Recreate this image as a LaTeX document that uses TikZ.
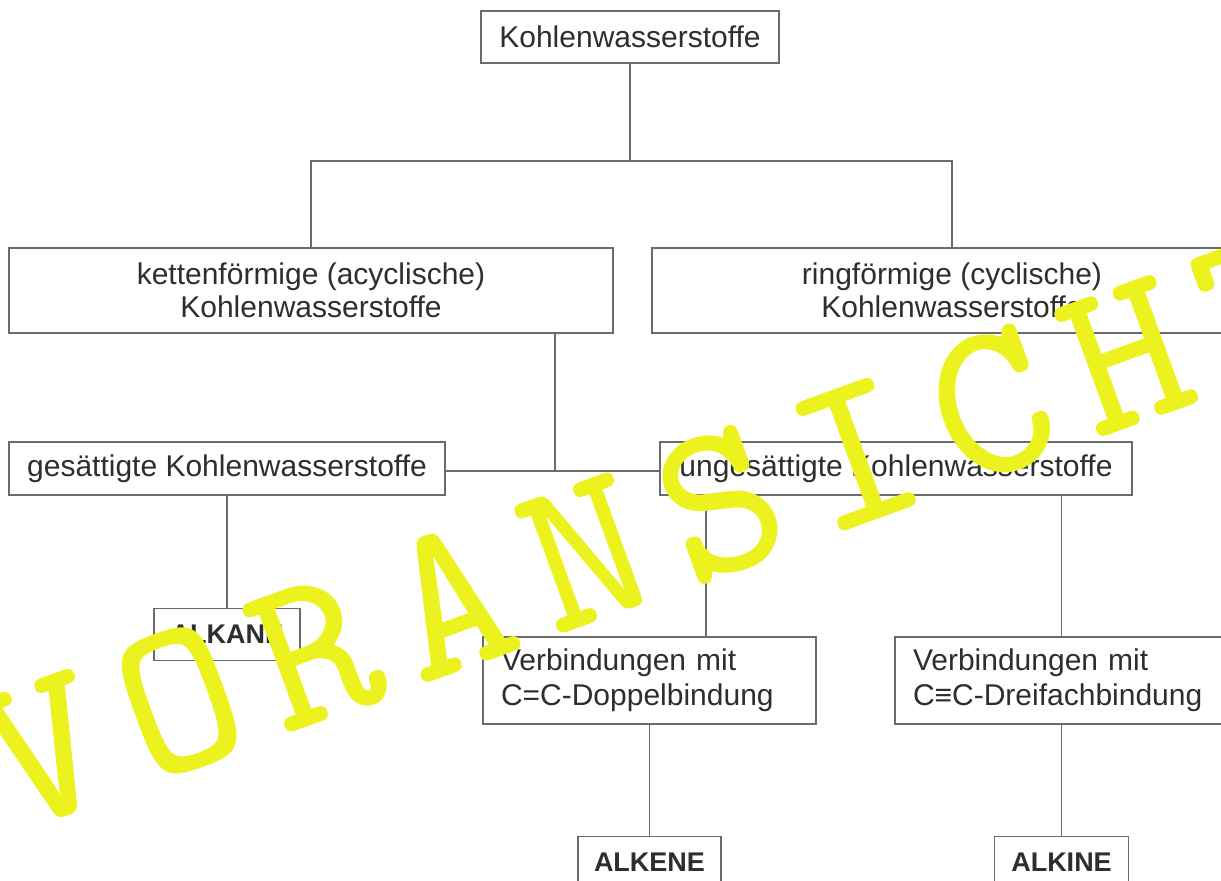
\documentclass[tikz,border=0pt]{standalone}
\usepackage{fontspec}
\setmainfont{Liberation Sans}
\newfontfamily\stampfont[FakeBold=0.6]{lmmono10-regular.otf}
\usetikzlibrary{positioning}
\definecolor{HCText}{HTML}{2E2E2E}
\definecolor{HCLine}{HTML}{6B6B6B}
\definecolor{HCMark}{HTML}{EBF21E}

\begin{document}
\begin{tikzpicture}[x=0.5pt,y=-0.5pt,
  box/.style={draw=HCLine,line width=0.75pt,fill=white,text=HCText,align=center,inner sep=0pt,font=\fontsize{15}{16.5}\selectfont},
  tag/.style={box,minimum height=26pt,font=\fontsize{13.5}{15}\selectfont\bfseries},
  note/.style={box,align=left,inner xsep=9pt,text width=148.5pt,minimum height=43.5pt,font=\fontsize{15}{17.5}\selectfont},
  link/.style={draw=HCLine,line width=0.75pt},
  stamp/.style={text=HCMark,font=\stampfont\fontsize{110.5}{110.5}\selectfont,rotate=20,anchor=base,inner sep=0pt},
]
\useasboundingbox (0,0) rectangle (1221,881);
\node[box,minimum width=149pt,minimum height=26pt] (top) at (630,37) {Kohlenwasserstoffe};
\node[box,minimum width=302pt,minimum height=42.5pt] (chain) at (311,290.5) {kettenförmige (acyclische)\\Kohlenwasserstoffe};
\node[box,minimum width=300pt,minimum height=42.5pt] (ring) at (952,290.5) {ringförmige (cyclische)\\Kohlenwasserstoffe};
\node[box,minimum width=218pt,minimum height=26.5pt] (sat) at (227,468.5) {gesättigte Kohlenwasserstoffe};
\node[box,minimum width=236pt,minimum height=26.5pt] (unsat) at (896,468.5) {ungesättigte Kohlenwasserstoffe};
\node[tag,minimum width=73pt,below=56pt of sat] (alkane) {ALKANE};
\node[note] (double) at (649.5,680.5) {Verbindungen mit\\C=C-Doppelbindung};
\node[note] (triple) at (1061.5,680.5) {Verbindungen mit\\C≡C-Dreifachbindung};
\node[tag,minimum width=71.5pt,below=55.5pt of double] (alkene) {ALKENE};
\node[tag,minimum width=67pt,below=55.5pt of triple] (alkine) {ALKINE};

\coordinate (fork) at (630,161);
\coordinate (join) at (555,471);
\coordinate (tap) at (706,495);
\draw[link] (top) -- (fork);
\draw[link] (chain.north) |- (fork) -| (ring.north);
\draw[link] (join |- chain.south) -- (join);
\draw[link] (sat.east |- join) -- (unsat.west |- join);
\draw[link] (sat.south -| alkane.north) -- (alkane.north);
\draw[link] (tap |- unsat.south) -- (tap |- double.north);
\draw[link] (unsat.south -| triple.north) -- (triple.north);
\draw[link] (double.south) -- (alkene.north);
\draw[link] (triple.south) -- (alkine.north);

\foreach \ch [count=\k from 0] in {V,O,R,A,N,S,I,C,H,T}
  \node[stamp] (stamp\k) at ({67+135.3*\k},{813-49.25*\k}) {\ch};
\end{tikzpicture}
\end{document}
